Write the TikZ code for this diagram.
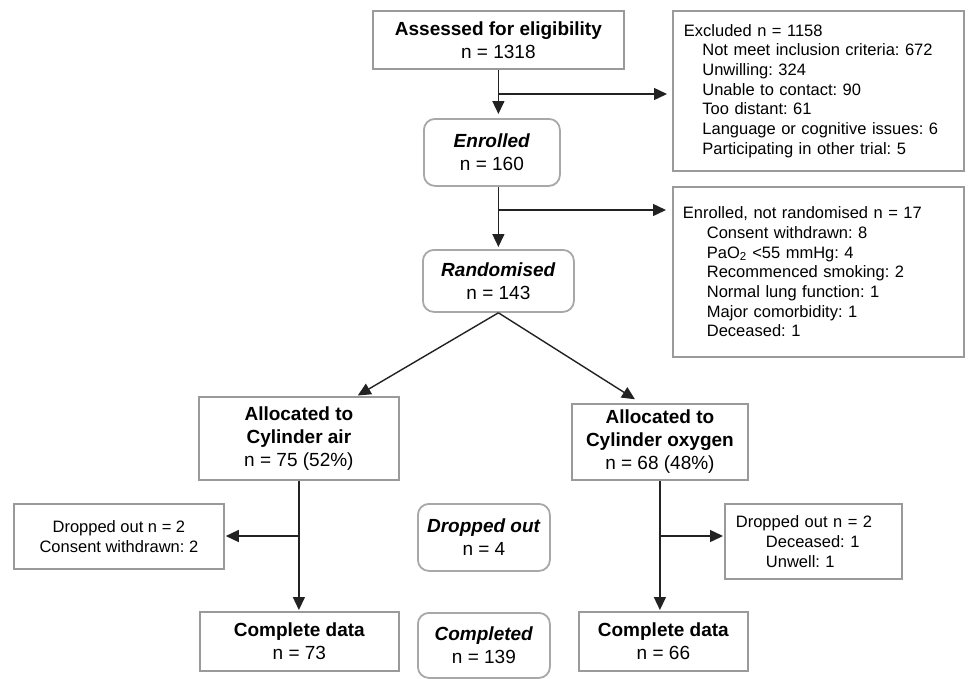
\documentclass[tikz,border=0pt]{standalone}
\usepackage{fontspec}
\setmainfont{Liberation Sans}
\usetikzlibrary{arrows.meta}
\definecolor{boxgray}{HTML}{9A9A9A}
\definecolor{rgray}{HTML}{A8A8A8}
\definecolor{linec}{HTML}{222222}
\newcommand\mainfnt{\fontsize{19}{23}\selectfont}
\newcommand\sidefnt{\fontsize{16.5}{19.7}\selectfont}
\frenchspacing
\begin{document}
\frenchspacing
\begin{tikzpicture}[x=1pt,y=-1pt,
  box/.style={draw=boxgray, line width=1.8pt, inner sep=0pt, anchor=north west, align=center, font=\mainfnt\frenchspacing},
  rbox/.style={box, rounded corners=11pt, draw=rgray},
  sidebox/.style={draw=boxgray, line width=1.8pt, anchor=north west, align=left, font=\sidefnt\frenchspacing, inner ysep=0pt},
  conn/.style={draw=linec, line width=1.4pt},
  arr/.style={conn, -{Triangle[length=13pt,width=12pt]}},
]
\fill[white] (0,0) rectangle (973,678);
\useasboundingbox (0,0) rectangle (973,678);

% nodes
\node[box, minimum width=251pt, minimum height=58pt] (assess) at (372,10)
  {\textbf{Assessed for eligibility}\\n = 1318};
\node[sidebox, text width=269pt, inner xsep=11pt, minimum height=160pt] (excl) at (672,10)
  {Excluded n = 1158\\
   \hspace*{18.5pt}Not meet inclusion criteria: 672\\
   \hspace*{18.5pt}Unwilling: 324\\
   \hspace*{18.5pt}Unable to contact: 90\\
   \hspace*{18.5pt}Too distant: 61\\
   \hspace*{18.5pt}Language or cognitive issues: 6\\
   \hspace*{18.5pt}Participating in other trial: 5};
\node[rbox, minimum width=136pt, minimum height=67pt] (enrol) at (423,118)
  {\textbf{\textit{Enrolled}}\\n = 160};
\node[sidebox, text width=271pt, inner xsep=10pt, minimum height=170pt] (notrand) at (672,186)
  {Enrolled, not randomised n = 17\\
   \hspace*{24pt}Consent withdrawn: 8\\
   \hspace*{24pt}PaO\textsubscript{2} <55 mmHg: 4\\
   \hspace*{24pt}Recommenced smoking: 2\\
   \hspace*{24pt}Normal lung function: 1\\
   \hspace*{24pt}Major comorbidity: 1\\
   \hspace*{24pt}Deceased: 1};
\node[rbox, minimum width=151pt, minimum height=62pt] (rand) at (422,249)
  {\textbf{\textit{Randomised}}\\n = 143};
\node[box, minimum width=200pt, minimum height=83pt] (air) at (198,396)
  {\textbf{Allocated to}\\\textbf{Cylinder air}\\n = 75 (52\%)};
\node[box, minimum width=176pt, minimum height=76pt] (oxy) at (571,403)
  {\textbf{Allocated to}\\\textbf{Cylinder oxygen}\\n = 68 (48\%)};
\node[box, font=\sidefnt\frenchspacing, minimum width=210pt, minimum height=65pt] (dropL) at (13,503)
  {Dropped out n = 2\\Consent withdrawn: 2};
\node[rbox, minimum width=132pt, minimum height=67pt] (dropC) at (417,503)
  {\textbf{\textit{Dropped out}}\\n = 4};
\node[sidebox, text width=155pt, inner xsep=11pt, minimum height=75pt] (dropR) at (724,503)
  {Dropped out n = 2\\
   \hspace*{30pt}Deceased: 1\\
   \hspace*{30pt}Unwell: 1};
\node[box, minimum width=199pt, minimum height=59pt] (compL) at (199,611)
  {\textbf{Complete data}\\n = 73};
\node[rbox, minimum width=132pt, minimum height=65pt] (completed) at (417,612)
  {\textbf{\textit{Completed}}\\n = 139};
\node[box, minimum width=169pt, minimum height=59pt] (compR) at (578,611)
  {\textbf{Complete data}\\n = 66};

% connectors
\draw[arr, shorten >=4pt] (assess.south) -- (assess.south |- enrol.north);
\coordinate (b1) at (assess.south |- 0,94);
\draw[arr, shorten >=5pt] (b1) -- (b1 -| excl.west);

\draw[arr, shorten >=2pt] (rand.north |- enrol.south) -- (rand.north);
\coordinate (b2) at (rand.north |- 0,210);
\draw[arr, shorten >=6pt] (b2) -- (b2 -| notrand.west);

\draw[arr, shorten >=1pt] (rand.south) -- ([xshift=58pt]air.north);
\draw[arr, shorten >=7pt] (rand.south) -- ([xshift=-19pt]oxy.north);

\draw[arr, shorten >=1pt] (air.south) -- (air.south |- compL.north);
\coordinate (b3) at (air.south |- 0,536);
\draw[arr, shorten >=1pt] (b3) -- (b3 -| dropL.east);

\draw[arr, shorten >=1pt] (oxy.south) -- (oxy.south |- compR.north);
\coordinate (b4) at (oxy.south |- 0,536);
\draw[arr, shorten >=1pt] (b4) -- (b4 -| dropR.west);
\end{tikzpicture}
\end{document}
